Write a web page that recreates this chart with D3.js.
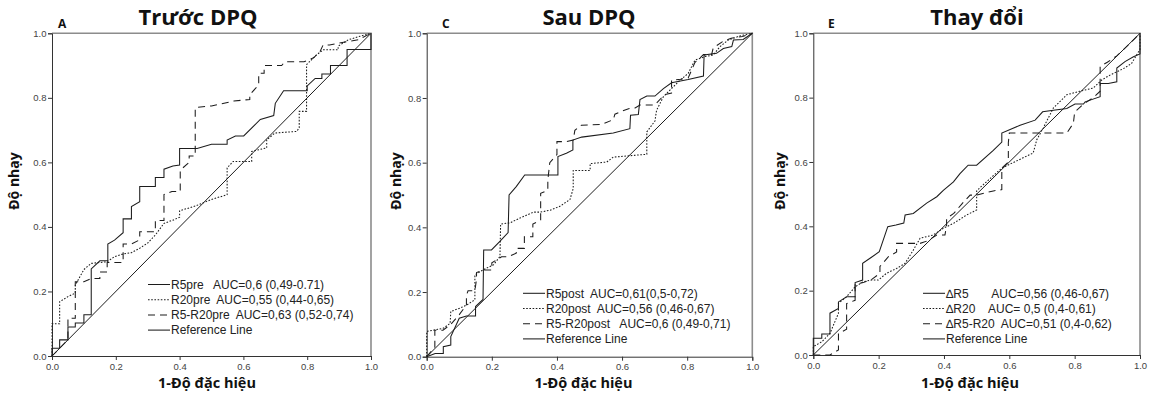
<!DOCTYPE html>
<html>
<head>
<meta charset="utf-8">
<script src="https://cdn.jsdelivr.net/npm/d3@7/dist/d3.min.js"></script>
<style>
  body { margin: 0; background: #fff; }
  svg { display: block; }
</style>
</head>
<body>
<svg id="chart" width="1153" height="393"></svg>
<script>
// ---- data ----
const axisTicks = [0, 0.2, 0.4, 0.6, 0.8, 1.0];
const panelTitles = ['Trước DPQ', 'Sau DPQ', 'Thay đổi'];
const panelLetters = ['A', 'C', 'E'];
const yLabel = 'Độ nhạy';
const xLabel = '1-Độ đặc hiệu';

const legendPre = ['R5pre   AUC=0,6 (0,49-0.71)', 'R20pre  AUC=0,55 (0,44-0,65)', 'R5-R20pre  AUC=0,63 (0,52-0,74)', 'Reference Line'];
const legendPost = ['R5post  AUC=0,61(0,5-0,72)', 'R20post  AUC=0,56 (0,46-0,67)', 'R5-R20post   AUC=0,6 (0,49-0,71)', 'Reference Line'];
const legendDelta = ['\u2206R5       AUC=0,56 (0,46-0,67)', '\u2206R20    AUC= 0,5 (0,4-0,61)', '\u2206R5-R20  AUC=0,51 (0,4-0,62)', 'Reference Line'];

// [1 - specificity, sensitivity]
const r5Pre = [[0,0],[0,0.024],[0.024,0.024],[0.024,0.05],[0.05,0.05],[0.05,0.09],[0.073,0.09],[0.073,0.102],[0.1,0.102],[0.1,0.128],[0.123,0.128],[0.123,0.27],[0.15,0.295],[0.175,0.295],[0.175,0.347],[0.196,0.359],[0.223,0.382],[0.223,0.425],[0.249,0.425],[0.249,0.463],[0.275,0.478],[0.275,0.525],[0.324,0.525],[0.324,0.553],[0.351,0.553],[0.351,0.579],[0.379,0.589],[0.4,0.592],[0.4,0.643],[0.455,0.643],[0.5,0.656],[0.549,0.656],[0.549,0.669],[0.575,0.682],[0.601,0.682],[0.653,0.733],[0.695,0.745],[0.7,0.783],[0.726,0.822],[0.8,0.822],[0.8,0.837],[0.825,0.86],[0.846,0.86],[0.846,0.874],[0.873,0.874],[0.873,0.9],[0.925,0.9],[0.925,0.95],[1,0.95],[1,1]];
const r20Pre = [[0,0],[0,0.1],[0.024,0.1],[0.024,0.168],[0.05,0.184],[0.073,0.195],[0.073,0.22],[0.1,0.268],[0.123,0.287],[0.173,0.292],[0.196,0.308],[0.223,0.316],[0.249,0.32],[0.275,0.334],[0.3,0.35],[0.324,0.375],[0.351,0.411],[0.379,0.421],[0.4,0.43],[0.4,0.45],[0.45,0.465],[0.5,0.485],[0.549,0.5],[0.549,0.583],[0.568,0.603],[0.626,0.603],[0.626,0.634],[0.673,0.645],[0.673,0.67],[0.699,0.691],[0.767,0.696],[0.775,0.707],[0.775,0.758],[0.798,0.758],[0.798,0.903],[0.83,0.934],[0.851,0.949],[0.897,0.949],[0.897,0.96],[0.929,0.98],[0.966,0.991],[1,1]];
const r5r20Pre = [[0,0],[0.025,0.025],[0.05,0.05],[0.05,0.117],[0.073,0.117],[0.073,0.23],[0.1,0.23],[0.123,0.24],[0.15,0.24],[0.15,0.26],[0.173,0.26],[0.173,0.29],[0.223,0.29],[0.223,0.347],[0.249,0.347],[0.275,0.36],[0.275,0.385],[0.324,0.385],[0.324,0.42],[0.351,0.42],[0.351,0.5],[0.376,0.51],[0.402,0.51],[0.402,0.576],[0.43,0.6],[0.43,0.62],[0.449,0.62],[0.449,0.77],[0.5,0.775],[0.57,0.79],[0.62,0.795],[0.62,0.81],[0.648,0.84],[0.648,0.876],[0.665,0.876],[0.665,0.9],[0.72,0.9],[0.73,0.912],[0.79,0.912],[0.82,0.924],[0.84,0.943],[0.85,0.964],[0.87,0.964],[0.93,0.975],[0.96,0.98],[1,1]];

const r5Post = [[0,0],[0.026,0.01],[0.051,0.01],[0.051,0.031],[0.074,0.036],[0.074,0.062],[0.1,0.119],[0.122,0.126],[0.15,0.126],[0.15,0.155],[0.173,0.177],[0.175,0.33],[0.199,0.33],[0.224,0.356],[0.25,0.384],[0.253,0.5],[0.275,0.526],[0.301,0.562],[0.403,0.562],[0.403,0.619],[0.429,0.629],[0.449,0.639],[0.449,0.67],[0.476,0.679],[0.573,0.692],[0.624,0.705],[0.626,0.747],[0.65,0.749],[0.655,0.795],[0.676,0.806],[0.701,0.806],[0.727,0.829],[0.752,0.847],[0.803,0.857],[0.85,0.868],[0.852,0.933],[0.89,0.938],[0.911,0.953],[0.937,0.959],[0.942,0.979],[0.972,0.981],[1,1]];
const r20Post = [[0,0],[0,0.078],[0.051,0.088],[0.072,0.103],[0.074,0.14],[0.102,0.15],[0.123,0.16],[0.148,0.176],[0.148,0.253],[0.174,0.269],[0.205,0.284],[0.225,0.31],[0.227,0.41],[0.256,0.414],[0.287,0.429],[0.328,0.447],[0.348,0.447],[0.379,0.453],[0.409,0.465],[0.44,0.486],[0.45,0.52],[0.45,0.576],[0.502,0.576],[0.502,0.597],[0.553,0.602],[0.573,0.617],[0.676,0.626],[0.676,0.695],[0.701,0.729],[0.706,0.762],[0.727,0.804],[0.747,0.824],[0.778,0.855],[0.803,0.876],[0.824,0.917],[0.855,0.928],[0.88,0.933],[0.901,0.959],[0.926,0.979],[0.962,0.992],[1,1]];
const r5r20Post = [[0,0],[0.025,0.03],[0.025,0.082],[0.05,0.082],[0.074,0.1],[0.1,0.13],[0.122,0.16],[0.122,0.19],[0.127,0.204],[0.148,0.204],[0.153,0.24],[0.153,0.26],[0.173,0.268],[0.2,0.268],[0.2,0.29],[0.23,0.309],[0.25,0.309],[0.275,0.32],[0.275,0.335],[0.3,0.335],[0.3,0.371],[0.326,0.371],[0.326,0.41],[0.35,0.423],[0.35,0.505],[0.372,0.515],[0.372,0.546],[0.378,0.6],[0.4,0.625],[0.4,0.665],[0.43,0.665],[0.45,0.67],[0.455,0.7],[0.475,0.716],[0.537,0.718],[0.573,0.733],[0.578,0.75],[0.594,0.757],[0.62,0.767],[0.64,0.769],[0.655,0.778],[0.7,0.778],[0.73,0.81],[0.752,0.815],[0.752,0.855],[0.78,0.858],[0.803,0.862],[0.824,0.91],[0.85,0.934],[0.875,0.934],[0.88,0.955],[0.91,0.975],[0.935,0.985],[0.97,0.99],[1,1]];

const dR5 = [[0,0],[0,0.052],[0.026,0.052],[0.026,0.065],[0.051,0.065],[0.051,0.13],[0.077,0.145],[0.077,0.165],[0.102,0.181],[0.128,0.181],[0.128,0.225],[0.151,0.233],[0.151,0.285],[0.177,0.303],[0.202,0.321],[0.228,0.399],[0.253,0.404],[0.277,0.41],[0.281,0.435],[0.306,0.44],[0.347,0.472],[0.378,0.492],[0.398,0.512],[0.429,0.538],[0.449,0.564],[0.474,0.59],[0.5,0.59],[0.551,0.636],[0.577,0.662],[0.577,0.69],[0.633,0.714],[0.679,0.73],[0.702,0.756],[0.735,0.761],[0.776,0.766],[0.801,0.78],[0.827,0.78],[0.832,0.787],[0.878,0.803],[0.878,0.844],[0.903,0.844],[0.929,0.849],[0.929,0.892],[0.954,0.912],[0.98,0.927],[1,0.936],[1,1]];
const dR20 = [[0,0],[0,0.026],[0.026,0.041],[0.051,0.067],[0.077,0.13],[0.077,0.161],[0.102,0.181],[0.128,0.212],[0.153,0.228],[0.179,0.233],[0.199,0.233],[0.224,0.254],[0.255,0.269],[0.281,0.285],[0.306,0.326],[0.327,0.363],[0.367,0.373],[0.398,0.394],[0.429,0.409],[0.469,0.435],[0.5,0.451],[0.5,0.51],[0.51,0.52],[0.577,0.581],[0.673,0.628],[0.684,0.669],[0.704,0.706],[0.735,0.768],[0.776,0.809],[0.816,0.82],[0.857,0.83],[0.883,0.855],[0.908,0.87],[0.949,0.89],[0.974,0.906],[1,0.95],[1,1]];
const dR5r20 = [[0,0],[0.051,0],[0.077,0.016],[0.077,0.067],[0.102,0.08],[0.102,0.16],[0.128,0.17],[0.128,0.22],[0.153,0.225],[0.179,0.235],[0.204,0.254],[0.204,0.275],[0.23,0.306],[0.255,0.32],[0.255,0.347],[0.327,0.347],[0.35,0.355],[0.378,0.373],[0.403,0.373],[0.408,0.404],[0.408,0.425],[0.43,0.44],[0.455,0.47],[0.48,0.497],[0.5,0.497],[0.551,0.51],[0.577,0.514],[0.577,0.581],[0.597,0.6],[0.597,0.66],[0.6,0.69],[0.776,0.69],[0.796,0.72],[0.8,0.755],[0.827,0.78],[0.857,0.8],[0.878,0.82],[0.878,0.897],[0.9,0.91],[0.929,0.93],[0.95,0.95],[0.97,0.97],[1,1]];

const referenceLine = [[0, 0], [1, 1]];

// ---- layout ----
const INK = '#1c1c1c';
const DASH = { solid: null, dotted: '1.6,1.6', dashed: '7,5' };
const STYLE_ORDER = ['solid', 'dotted', 'dashed', 'solid'];

const panels = [
  { left: 52, right: 371, top: 33.3, bottom: 356, titleX: 198, letterX: 58, yLabelX: 19, xLabelX: 207, legendX: 148, legendY: 284.5,
    series: [r5Pre, r20Pre, r5r20Pre], legend: legendPre },
  { left: 426.7, right: 752.3, top: 33.3, bottom: 356.7, titleX: 589, letterX: 442, yLabelX: 401, xLabelX: 583.5, legendX: 523, legendY: 293.3,
    series: [r5Post, r20Post, r5r20Post], legend: legendPost },
  { left: 813.3, right: 1140, top: 33.3, bottom: 355, titleX: 977, letterX: 828, yLabelX: 785, xLabelX: 970, legendX: 923, legendY: 293.3,
    series: [dR5, dR20, dR5r20], legend: legendDelta },
];

const svg = d3.select('#chart');
const sans = '"Liberation Sans", Arial, sans-serif';
const heading = '"Open Sans", Lato, sans-serif';

panels.forEach((p, i) => {
  const x = d3.scaleLinear().domain([0, 1]).range([p.left, p.right]);
  const y = d3.scaleLinear().domain([0, 1]).range([p.bottom, p.top]);
  const g = svg.append('g');

  // frame: grey top/right, dark axes left/bottom
  g.append('path')
    .attr('d', `M${x(0)},${y(1)}H${x(1)}V${y(0)}`)
    .attr('fill', 'none').attr('stroke', '#8c8c8c').attr('stroke-width', 1.6);

  g.append('g')
    .attr('transform', `translate(${x(0)},0)`)
    .call(d3.axisLeft(y).tickValues(axisTicks).tickFormat(d3.format('.1f')).tickSizeOuter(0).tickSize(4).tickPadding(1.5))
    .call((a) => {
      a.select('.domain').attr('stroke', '#333');
      a.selectAll('.tick line').attr('stroke', '#333');
      a.selectAll('.tick text').attr('fill', '#444').attr('font-family', sans).attr('font-size', '9.5px');
    });

  g.append('g')
    .attr('transform', `translate(0,${y(0)})`)
    .call(d3.axisBottom(x).tickValues(axisTicks).tickFormat(d3.format('.1f')).tickSizeOuter(0).tickSize(4).tickPadding(3))
    .call((a) => {
      a.select('.domain').attr('stroke', '#333');
      a.selectAll('.tick line').attr('stroke', '#333');
      a.selectAll('.tick text').attr('fill', '#444').attr('font-family', sans).attr('font-size', '9.5px');
    });

  const line = d3.line().x((d) => x(d[0])).y((d) => y(d[1]));

  g.append('path').datum(referenceLine)
    .attr('fill', 'none').attr('stroke', INK).attr('stroke-width', 1).attr('d', line);

  p.series.forEach((s, k) => {
    g.append('path').datum(s)
      .attr('fill', 'none').attr('stroke', INK).attr('stroke-width', 1.05)
      .attr('stroke-dasharray', DASH[STYLE_ORDER[k]])
      .attr('d', line);
  });

  // titles and labels
  svg.append('text').attr('x', p.titleX).attr('y', 25)
    .attr('text-anchor', 'middle').attr('font-family', heading).attr('font-weight', 700)
    .attr('font-size', '22px').attr('fill', '#111').text(panelTitles[i]);
  svg.append('text').attr('x', p.letterX).attr('y', 28)
    .attr('font-family', heading).attr('font-weight', 700)
    .attr('font-size', '12px').attr('fill', '#111').text(panelLetters[i]);
  svg.append('text')
    .attr('transform', `translate(${p.yLabelX},181) rotate(-90)`)
    .attr('text-anchor', 'middle').attr('font-family', heading).attr('font-weight', 700)
    .attr('font-size', '14px').attr('fill', '#111').text(yLabel);
  svg.append('text').attr('x', p.xLabelX).attr('y', 388)
    .attr('text-anchor', 'middle').attr('font-family', heading).attr('font-weight', 700)
    .attr('font-size', '14.5px').attr('fill', '#111').text(xLabel);

  // legend
  const lg = svg.append('g');
  p.legend.forEach((label, k) => {
    const ly = p.legendY + k * 15.2;
    lg.append('line')
      .attr('x1', p.legendX).attr('x2', p.legendX + 22).attr('y1', ly).attr('y2', ly)
      .attr('stroke', INK).attr('stroke-width', 1.05)
      .attr('stroke-dasharray', DASH[STYLE_ORDER[k]]);
    lg.append('text')
      .attr('xml:space', 'preserve')
      .style('white-space', 'pre')
      .attr('x', p.legendX + 23).attr('y', ly + 4.3)
      .attr('font-family', sans).attr('font-size', '12px').attr('fill', '#222')
      .text(label);
  });
});
</script>
</body>
</html>
